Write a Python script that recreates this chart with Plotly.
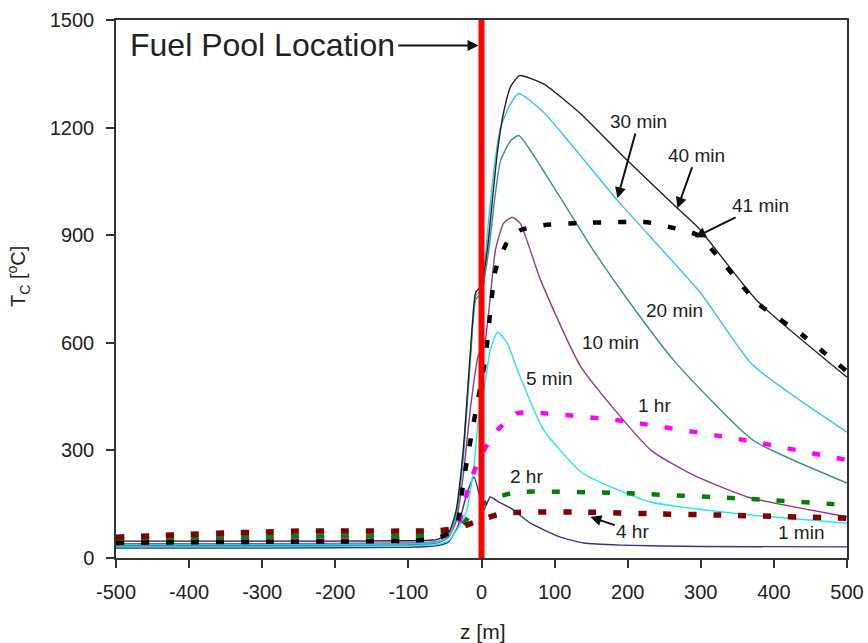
import plotly.graph_objects as go

# ---- data ----
z_1min = [-500, -300, -100, -60, -45, -32, -20, -10, 3, 12, 24, 40, 67, 108, 140, 190, 300, 500]
t_1min = [28, 28, 30, 35, 45, 90, 180, 225, 134, 170, 156, 139, 97, 58, 42, 36, 32, 31]

z_5min = [-500, -300, -100, -60, -45, -30, -20, -10, -4, 5, 12, 22, 35, 50, 85, 138, 231, 368, 500]
t_5min = [32, 32, 34, 38, 48, 90, 134, 260, 393, 490, 580, 630, 600, 520, 357, 237, 156, 120, 97]

z_10min = [-500, -300, -100, -60, -45, -35, -25, -15, -5, 5, 12, 19, 30, 42, 53, 81, 136, 232, 290, 364, 500]
t_10min = [40, 40, 42, 46, 60, 100, 230, 420, 560, 607, 727, 858, 933, 950, 933, 774, 533, 300, 231, 170, 115]

z_20min = [-500, -300, -100, -60, -45, -35, -25, -15, -8, 0, 10, 18, 26, 40, 51, 100, 153, 200, 263, 371, 500]
t_20min = [35, 35, 37, 42, 58, 115, 280, 560, 720, 740, 858, 1000, 1108, 1164, 1178, 1030, 858, 720, 551, 329, 209]

z_30min = [-500, -300, -100, -60, -45, -35, -25, -15, -8, 0, 10, 18, 26, 38, 51, 85, 186, 300, 370, 500]
t_30min = [38, 38, 40, 45, 60, 120, 290, 570, 730, 750, 950, 1100, 1200, 1260, 1295, 1243, 997, 738, 540, 351]

z_40min = [-500, -300, -100, -60, -45, -35, -25, -15, -8, 0, 8, 15, 22, 30, 40, 52, 85, 136, 195, 268, 296, 378, 500]
t_40min = [47, 47, 48, 52, 70, 130, 300, 580, 740, 760, 860, 1000, 1136, 1240, 1315, 1345, 1322, 1238, 1117, 975, 922, 715, 504]

z_41min = [-500, -400, -300, -200, -100, -60, -45, -33, -25, -11, 5, 19, 35, 53, 85, 150, 227, 259, 296, 378, 440, 500]
t_41min = [42, 44, 45, 46, 48, 55, 70, 97, 209, 375, 551, 802, 880, 914, 928, 935, 936, 922, 900, 710, 620, 520]

z_1hr = [-500, -400, -300, -200, -100, -60, -45, -33, -15, 1, 22, 49, 81, 186, 359, 500]
t_1hr = [45, 50, 52, 54, 55, 58, 65, 86, 217, 292, 357, 404, 404, 384, 329, 273]

z_2hr = [-500, -400, -300, -200, -100, -60, -40, -25, -8, 22, 49, 190, 364, 500]
t_2hr = [52, 56, 60, 62, 62, 65, 72, 95, 139, 170, 184, 181, 165, 148]

z_4hr = [-500, -450, -400, -350, -300, -250, -200, -100, -60, -32, -1, 30, 140, 240, 320, 500]
t_4hr = [58, 62, 66, 70, 72, 75, 75, 75, 76, 84, 106, 125, 128, 123, 120, 111]

pool_z = [0, 0]
pool_t = [0, 1500]

x_ticks = [-500, -400, -300, -200, -100, 0, 100, 200, 300, 400, 500]
y_ticks = [0, 300, 600, 900, 1200, 1500]

FONT = "Liberation Sans, Arial, sans-serif"
TXT = "#222222"

W, H = 868, 643
ML, MR, MT, MB = 116, 21, 20, 85
PW, PH = W - ML - MR, H - MT - MB


def px_to_paper(px, py):
    return (px - ML) / PW, (H - MB - py) / PH


fig = go.Figure()


def thin(z, t, color, name):
    fig.add_trace(go.Scatter(x=z, y=t, mode="lines", name=name,
                             line=dict(color=color, width=1.4, shape="spline", smoothing=0.5)))


def dotted(z, t, color, name, width=4.5):
    fig.add_trace(go.Scatter(x=z, y=t, mode="lines", name=name,
                             line=dict(color=color, width=width, dash="8px,17px",
                                       shape="spline", smoothing=0.5)))


thin(z_1min, t_1min, "#34348f", "1 min")
thin(z_5min, t_5min, "#22e8f2", "5 min")
thin(z_10min, t_10min, "#8e3c8e", "10 min")
thin(z_20min, t_20min, "#3a8f8f", "20 min")
thin(z_30min, t_30min, "#33c4f5", "30 min")
thin(z_40min, t_40min, "#222222", "40 min")
dotted(z_1hr, t_1hr, "#ff00ff", "1 hr")
dotted(z_2hr, t_2hr, "#008000", "2 hr")
dotted(z_41min, t_41min, "#000000", "41 min")
dotted(z_4hr, t_4hr, "#800000", "4 hr", width=5.5)

fig.add_trace(go.Scatter(x=pool_z, y=pool_t, mode="lines", name="pool",
                         line=dict(color="#ff0000", width=6)))

annos = []
# plain text labels (data coords of label centre)
labels = [
    ("20 min", 264, 691), ("10 min", 177, 602), ("5 min", 93, 501),
    ("1 hr", 237, 426), ("2 hr", 62, 228), ("1 min", 437, 70),
]
for txt, zx, ty in labels:
    annos.append(dict(x=zx, y=ty, xref="x", yref="y", text=txt, showarrow=False,
                      font=dict(family=FONT, size=19, color=TXT),
                      xanchor="center", yanchor="middle"))

# labels with arrows: (text, head z, head T, label-centre z, label-centre T)
arrow_labels = [
    ("30 min", 186, 1003, 215, 1217),
    ("40 min", 268, 975, 294, 1123),
    ("41 min", 292, 894, 381, 983),
    ("4 hr", 149, 114, 207, 75),
]
for txt, hx, hy, tx, ty in arrow_labels:
    annos.append(dict(x=hx, y=hy, ax=tx, ay=ty, xref="x", yref="y",
                      axref="x", ayref="y", text=txt, showarrow=True,
                      font=dict(family=FONT, size=19, color=TXT),
                      arrowhead=2, arrowsize=1.1, arrowwidth=2, arrowcolor="#111111"))

annos.append(dict(x=-4, y=1429, ax=-300, ay=1429, xref="x", yref="y",
                  axref="x", ayref="y", text="Fuel Pool Location", showarrow=True,
                  font=dict(family=FONT, size=32, color=TXT), borderpad=3,
                  arrowhead=2, arrowsize=1.1, arrowwidth=2, arrowcolor="#111111"))

yx, yy = px_to_paper(18, 277)
annos.append(dict(x=yx, y=yy, xref="paper", yref="paper", text="T<sub>C</sub> [<sup>o</sup>C]",
                  showarrow=False, textangle=-90, xanchor="center", yanchor="middle",
                  font=dict(family=FONT, size=20, color=TXT)))

zx_, zy_ = px_to_paper(483, 631)
annos.append(dict(x=zx_, y=zy_, xref="paper", yref="paper", text="z [m]",
                  showarrow=False, xanchor="center", yanchor="middle",
                  font=dict(family=FONT, size=21, color=TXT)))

fig.update_layout(
    width=W, height=H,
    margin=dict(l=ML, r=MR, t=MT, b=MB),
    paper_bgcolor="white", plot_bgcolor="white",
    showlegend=False,
    font=dict(family=FONT, size=20, color=TXT),
    annotations=annos,
    xaxis=dict(range=[-500, 500], tickvals=x_ticks, ticktext=[str(v) for v in x_ticks],
               automargin=False,
               showgrid=False, zeroline=False, showline=True, linecolor="#333333", linewidth=1.5,
               mirror=True, ticks="outside", ticklen=8, tickwidth=1.5, tickcolor="#333333",
               tickfont=dict(family=FONT, size=20, color=TXT), ticklabelstandoff=7),
    yaxis=dict(range=[0, 1500], tickvals=y_ticks, ticktext=[str(v) for v in y_ticks],
               automargin=False,
               showgrid=False, zeroline=False, showline=True, linecolor="#333333", linewidth=1.5,
               mirror=True, ticks="outside", ticklen=8, tickwidth=1.5, tickcolor="#333333",
               tickfont=dict(family=FONT, size=20, color=TXT), ticklabelstandoff=8),
)

fig.write_html("out.html")
